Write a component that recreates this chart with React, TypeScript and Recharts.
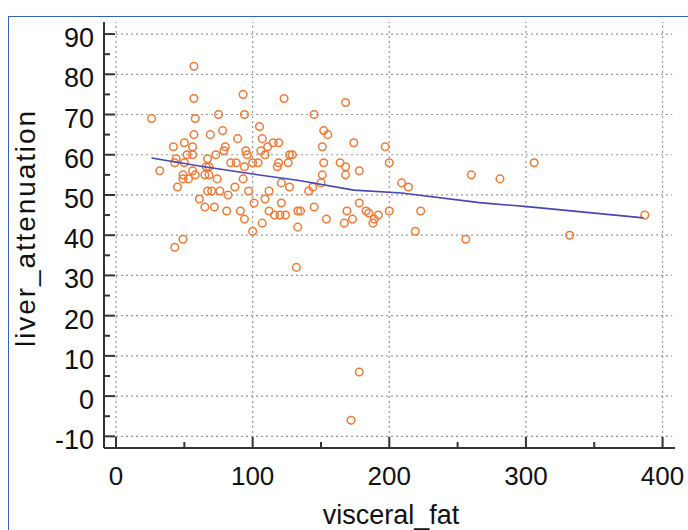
import React from 'react';
import { ScatterChart, Scatter, XAxis, YAxis, ReferenceLine } from 'recharts';

const visceralFat = [
  57, 26, 57, 93, 123, 58, 75, 94, 57, 69, 78, 105, 89, 107, 42, 50, 56, 80, 111, 115,
  119, 106, 95, 56, 52, 73, 79, 44, 67, 96, 109, 127, 43, 50, 84, 88, 100, 104, 119, 126,
  66, 68, 94, 118, 32, 56, 49, 53, 58, 65, 68, 74, 93, 45, 67, 70, 76, 87, 97, 112,
  121, 127, 61, 82, 101, 109, 121, 65, 72, 81, 91, 94, 112, 116, 120, 124, 133, 107, 100, 133,
  49, 43, 49,
  168, 145, 152, 155, 151, 174, 197, 129, 152, 164, 168, 200, 178, 168, 151, 150, 141, 144, 209, 214,
  260, 135, 145, 154, 178, 169, 173, 167, 183, 185, 192, 188, 189, 200, 223, 219, 256, 132, 281, 306,
  332, 387, 178, 172,
];

const liverAttenuation = [
  82, 69, 74, 75, 74, 69, 70, 70, 65, 65, 66, 67, 64, 64, 62, 63, 62, 62, 62, 63,
  63, 61, 61, 60, 60, 60, 61, 59, 59, 60, 60, 60, 58, 58, 58, 58, 58, 58, 58, 58,
  57, 57, 57, 57, 56, 56, 55, 54, 55, 55, 55, 54, 54, 52, 51, 51, 51, 52, 51, 51,
  53, 52, 49, 50, 48, 49, 48, 47, 47, 46, 46, 44, 46, 45, 45, 45, 46, 43, 41, 42,
  39, 37, 54,
  73, 70, 66, 65, 62, 63, 62, 60, 58, 58, 57, 58, 56, 55, 55, 53, 51, 52, 53, 52,
  55, 46, 47, 44, 48, 46, 44, 43, 46, 45.5, 45, 43, 44, 46, 46, 41, 39, 32, 54, 58,
  40, 45, 6, -6,
];

const fitX = [26, 61, 100, 134, 174, 209, 266, 301, 386];
const fitY = [59.2, 57.2, 55.2, 53.6, 51.2, 50.5, 48.1, 47.1, 44.3];

const xTicks = [0, 100, 200, 300, 400];
const xMinorTicks = [50, 150, 250, 350];
const yTicks = [-10, 0, 10, 20, 30, 40, 50, 60, 70, 80, 90];
const yMinorTicks = [-5, 5, 15, 25, 35, 45, 55, 65, 75, 85];

const xLabel = 'visceral_fat';
const yLabel = 'liver_attenuation';

const points = visceralFat.map((x, i) => ({ x, y: liverAttenuation[i] }));
const fitData = fitX.map((x, i) => ({ x, y: fitY[i] }));
const xAllTicks = [...xTicks, ...xMinorTicks].sort((a, b) => a - b);
const yAllTicks = [...yTicks, ...yMinorTicks].sort((a, b) => a - b);

const FONT = '"Liberation Sans", Arial, Helvetica, sans-serif';
const AXIS = '#333333';
const GRID = '#969696';

const XTick = (props: any) => {
  const { x, y, payload } = props;
  const v = payload.value;
  const major = xTicks.includes(v);
  return (
    <g>
      <line x1={x} x2={x} y1={y} y2={y - (major ? 11 : 6)} stroke={AXIS} strokeWidth={2} />
      {major && (
        <text x={x} y={y + 37} textAnchor="middle" fontSize={26} fontFamily={FONT} fill="#111">
          {v}
        </text>
      )}
    </g>
  );
};

const YTick = (props: any) => {
  const { x, y, payload } = props;
  const v = payload.value;
  const major = yTicks.includes(v);
  return (
    <g>
      <line x1={x} x2={x + (major ? 11 : 6)} y1={y} y2={y} stroke={AXIS} strokeWidth={2} />
      {major && (
        <text x={x - 10} y={y + 4} textAnchor="end" dominantBaseline="central" fontSize={27} fontFamily={FONT} fill="#111">
          {v}
        </text>
      )}
    </g>
  );
};

const Ring = (p: any) => (
  <circle cx={p.cx} cy={p.cy} r={3.8} fill="none" stroke="#F07A35" strokeWidth={1.5} />
);

const NoShape = () => <g />;

export default function App() {
  return (
    <div style={{ position: 'absolute', left: 0, top: 0, width: 688, height: 530, overflow: 'hidden', background: '#fff' }}>
      <div
        style={{
          position: 'absolute',
          left: 8,
          top: 16,
          width: 720,
          height: 560,
          border: '1.5px solid #3561b4',
          boxSizing: 'border-box',
        }}
      />
      <div style={{ position: 'absolute', left: 0, top: 0 }}>
        <ScatterChart width={688} height={530} margin={{ top: 22, right: 13, bottom: 0, left: 0 }}>
          <XAxis
            type="number"
            dataKey="x"
            domain={[-8.8, 409.1]}
            allowDataOverflow
            ticks={xAllTicks}
            interval={0}
            tickSize={0}
            tickMargin={0}
            tick={<XTick />}
            tickLine={false}
            axisLine={{ stroke: AXIS, strokeWidth: 2 }}
            height={82}
            label={{
              content: () => (
                <text x={391} y={524} textAnchor="middle" fontSize={27} fontFamily={FONT} fill="#111">
                  {xLabel}
                </text>
              ),
            }}
          />
          <YAxis
            type="number"
            dataKey="y"
            domain={[-12.9, 93]}
            allowDataOverflow
            ticks={yAllTicks}
            interval={0}
            tickSize={0}
            tickMargin={0}
            tick={<YTick />}
            tickLine={false}
            axisLine={{ stroke: AXIS, strokeWidth: 2 }}
            width={104}
            label={{
              content: () => (
                <text
                  x={35}
                  y={228}
                  transform="rotate(-90 35 228)"
                  textAnchor="middle"
                  fontSize={28}
                  letterSpacing={1.9}
                  fontFamily={FONT}
                  fill="#111"
                >
                  {yLabel}
                </text>
              ),
            }}
          />
          {yTicks.map((v) => (
            <ReferenceLine
              key={'h' + v}
              segment={[{ x: 0, y: v }, { x: 407, y: v }]}
              stroke={GRID}
              strokeWidth={1.2}
              strokeDasharray="2 3"
            />
          ))}
          {xTicks.map((v) => (
            <ReferenceLine key={'v' + v} x={v} stroke={GRID} strokeWidth={1.2} strokeDasharray="2 3" />
          ))}
          <Scatter data={points} shape={Ring} isAnimationActive={false} />
          <Scatter
            data={fitData}
            shape={NoShape}
            line={{ stroke: '#4646B4', strokeWidth: 1.6 }}
            lineType="joint"
            isAnimationActive={false}
          />
        </ScatterChart>
      </div>
    </div>
  );
}
